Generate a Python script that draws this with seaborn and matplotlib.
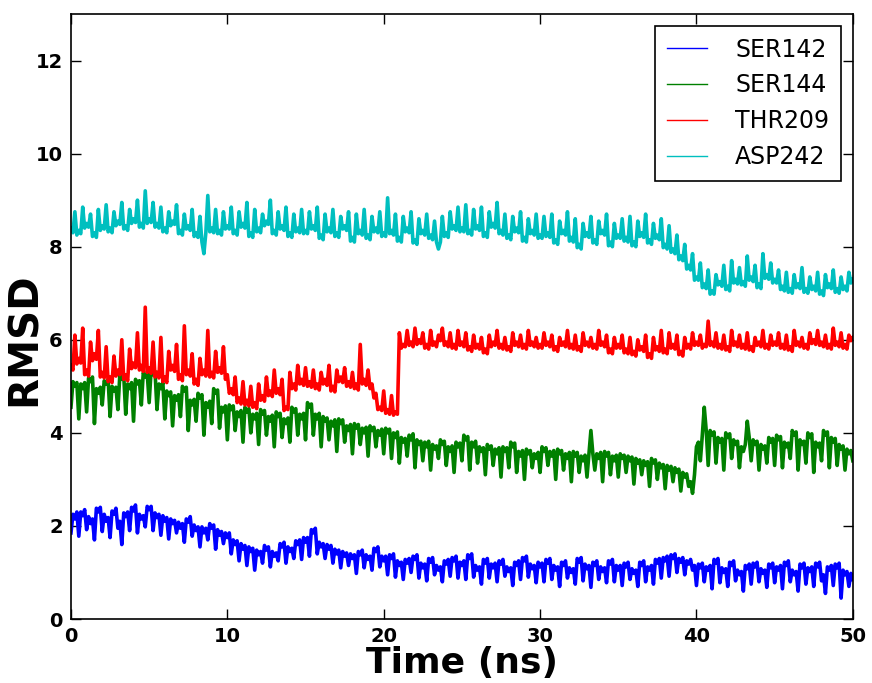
import matplotlib
matplotlib.use("Agg")
import matplotlib.pyplot as plt
import numpy as np
import pandas as pd
import seaborn as sns

# readings every 0.25 ns (0..50) plus in-between readings (0.125..49.875)
time_ns = np.arange(0, 50.01, 0.25)
time_mid = np.arange(0.125, 50, 0.25)

ser142 = [
    1.85, 2.15, 1.78, 2.22, 1.92, 2.05, 1.70, 2.30, 1.88, 2.10, 1.75, 2.25, 1.95, 1.60, 2.20, 1.90, 2.32, 1.85, 2.15, 1.98,
    2.35, 1.90, 2.18, 1.80, 2.10, 1.72, 2.05, 1.85, 1.95, 1.65, 2.08, 1.78, 1.90, 1.55, 1.85, 1.70, 1.95, 1.50, 1.80, 1.62,
    1.75, 1.40, 1.60, 1.25, 1.50, 1.15, 1.45, 1.05, 1.38, 1.20, 1.48, 1.12, 1.35, 1.25, 1.55, 1.20, 1.45, 1.30, 1.60, 1.28,
    1.65, 1.35, 1.85, 1.40, 1.55, 1.30, 1.50, 1.20, 1.40, 1.10, 1.35, 1.15, 1.30, 0.98, 1.38, 1.10, 1.28, 1.05, 1.45, 1.12,
    1.25, 0.95, 1.30, 0.90, 1.15, 0.85, 1.20, 1.00, 1.28, 0.88, 1.10, 0.82, 1.22, 0.95, 1.05, 0.80, 1.18, 0.92, 1.25, 0.88,
    1.15, 0.85, 1.30, 0.90, 1.05, 0.75, 1.20, 0.88, 1.10, 0.80, 1.18, 0.92, 1.02, 0.72, 1.15, 0.85, 1.25, 0.90, 1.08, 0.78,
    1.12, 0.80, 1.20, 0.85, 1.05, 0.70, 1.15, 0.88, 1.00, 0.75, 1.22, 0.82, 1.08, 0.68, 1.15, 0.85, 1.02, 0.78, 1.18, 0.80,
    1.05, 0.72, 1.12, 0.85, 0.98, 0.70, 1.15, 0.80, 1.05, 0.75, 1.20, 0.88, 1.25, 0.92, 1.30, 1.00, 1.22, 0.95, 1.18, 1.05,
    0.72, 1.10, 0.80, 1.05, 0.65, 1.20, 0.78, 1.00, 0.70, 1.15, 0.82, 0.95, 0.60, 1.08, 0.75, 1.12, 0.80, 0.98, 0.68, 1.10,
    0.78, 1.05, 0.65, 1.15, 0.80, 0.95, 0.60, 1.10, 0.75, 1.02, 0.70, 1.12, 0.82, 0.55, 1.05, 0.72, 1.10, 0.45, 0.95, 0.70,
    0.85,
]
ser142_mid = [
    2.25, 2.30, 2.30, 2.35, 2.20, 2.15, 2.38, 2.40, 2.25, 2.18, 2.32, 2.38, 2.10, 2.28, 2.30, 2.40, 2.45, 2.25, 2.22, 2.42,
    2.42, 2.28, 2.25, 2.22, 2.18, 2.15, 2.12, 2.08, 2.05, 2.15, 2.20, 2.02, 1.98, 1.98, 1.95, 2.05, 2.02, 1.92, 1.88, 1.85,
    1.85, 1.70, 1.68, 1.62, 1.58, 1.55, 1.52, 1.48, 1.45, 1.58, 1.55, 1.45, 1.42, 1.62, 1.65, 1.55, 1.52, 1.68, 1.70, 1.75,
    1.75, 1.92, 1.95, 1.65, 1.62, 1.60, 1.58, 1.50, 1.48, 1.45, 1.42, 1.40, 1.38, 1.45, 1.48, 1.38, 1.35, 1.52, 1.55, 1.35,
    1.35, 1.38, 1.40, 1.25, 1.22, 1.28, 1.30, 1.35, 1.38, 1.20, 1.18, 1.30, 1.32, 1.15, 1.12, 1.25, 1.28, 1.32, 1.35, 1.22,
    1.25, 1.38, 1.40, 1.15, 1.12, 1.28, 1.30, 1.18, 1.20, 1.25, 1.28, 1.12, 1.10, 1.22, 1.25, 1.32, 1.35, 1.18, 1.15, 1.22,
    1.20, 1.28, 1.30, 1.15, 1.12, 1.22, 1.25, 1.10, 1.08, 1.30, 1.32, 1.18, 1.15, 1.22, 1.25, 1.12, 1.10, 1.25, 1.28, 1.15,
    1.15, 1.20, 1.22, 1.08, 1.05, 1.22, 1.25, 1.12, 1.15, 1.28, 1.30, 1.32, 1.35, 1.38, 1.40, 1.30, 1.32, 1.25, 1.28, 1.15,
    1.18, 1.20, 1.12, 1.15, 1.28, 1.30, 1.10, 1.08, 1.22, 1.25, 1.05, 1.02, 1.15, 1.18, 1.20, 1.22, 1.08, 1.05, 1.18, 1.20,
    1.12, 1.15, 1.22, 1.25, 1.05, 1.02, 1.18, 1.20, 1.10, 1.12, 1.20, 1.22, 0.95, 1.12, 1.15, 1.18, 1.20, 1.05, 1.02, 0.98,
]

ser144 = [
    4.55, 5.00, 4.30, 4.95, 4.45, 5.10, 4.20, 4.85, 4.60, 5.05, 4.35, 4.90, 4.50, 5.15, 4.40, 4.95, 4.25, 5.05, 4.60, 5.20,
    4.65, 5.25, 4.50, 4.95, 4.30, 4.80, 4.15, 4.70, 4.35, 4.90, 4.05, 4.60, 4.25, 4.75, 3.95, 4.55, 4.20, 4.85, 4.10, 4.45,
    3.85, 4.50, 4.05, 4.35, 3.80, 4.45, 4.00, 4.30, 3.75, 4.40, 3.95, 4.25, 3.70, 4.35, 3.90, 4.20, 3.80, 4.45, 3.95, 4.30,
    3.85, 4.55, 3.95, 4.30, 3.70, 4.25, 3.85, 4.15, 3.60, 4.20, 3.80, 4.05, 3.55, 4.10, 3.75, 4.00, 3.50, 4.05, 3.70, 3.95,
    3.55, 4.00, 3.45, 3.90, 3.35, 3.80, 3.50, 3.85, 3.25, 3.75, 3.40, 3.70, 3.20, 3.65, 3.45, 3.75, 3.30, 3.60, 3.15, 3.70,
    3.40, 3.85, 3.20, 3.70, 3.35, 3.60, 3.10, 3.65, 3.30, 3.55, 3.05, 3.60, 3.25, 3.70, 3.15, 3.50, 3.00, 3.55, 3.25, 3.45,
    3.15, 3.60, 3.30, 3.50, 3.00, 3.55, 3.20, 3.45, 2.95, 3.50, 3.15, 3.40, 3.05, 4.05, 3.20, 3.45, 2.95, 3.50, 3.10, 3.40,
    3.05, 3.45, 3.15, 3.40, 2.90, 3.35, 3.10, 3.30, 2.85, 3.35, 3.00, 3.25, 2.80, 3.20, 2.95, 3.15, 2.75, 3.05, 2.85, 2.70,
    3.70, 3.40, 4.55, 3.30, 3.95, 3.35, 3.80, 3.20, 3.90, 3.45, 3.75, 3.25, 3.60, 4.25, 3.40, 3.75, 3.20, 3.65, 3.35, 3.80,
    3.30, 3.85, 3.25, 3.70, 3.45, 3.95, 3.20, 3.75, 3.35, 3.90, 3.15, 3.70, 3.40, 3.95, 3.25, 3.80, 3.30, 3.65, 3.20, 3.55,
    3.40,
]
ser144_mid = [
    5.10, 5.08, 5.05, 5.08, 5.18, 5.20, 4.95, 4.98, 5.12, 5.15, 5.00, 4.98, 5.25, 5.22, 5.05, 5.08, 5.15, 5.12, 5.30, 5.28,
    5.35, 5.32, 5.05, 5.08, 4.90, 4.88, 4.80, 4.82, 5.00, 4.98, 4.70, 4.72, 4.85, 4.82, 4.65, 4.68, 4.95, 4.92, 4.55, 4.58,
    4.60, 4.58, 4.45, 4.48, 4.55, 4.52, 4.40, 4.42, 4.50, 4.48, 4.35, 4.38, 4.45, 4.42, 4.30, 4.32, 4.55, 4.52, 4.40, 4.42,
    4.65, 4.62, 4.40, 4.42, 4.35, 4.32, 4.25, 4.28, 4.30, 4.28, 4.15, 4.18, 4.20, 4.18, 4.10, 4.12, 4.15, 4.12, 4.05, 4.08,
    4.10, 4.08, 4.00, 4.02, 3.90, 3.88, 3.95, 3.98, 3.85, 3.82, 3.80, 3.82, 3.75, 3.72, 3.85, 3.82, 3.70, 3.72, 3.80, 3.78,
    3.95, 3.92, 3.80, 3.82, 3.70, 3.68, 3.75, 3.72, 3.65, 3.68, 3.70, 3.68, 3.80, 3.78, 3.60, 3.62, 3.65, 3.62, 3.55, 3.58,
    3.70, 3.68, 3.60, 3.62, 3.65, 3.62, 3.55, 3.58, 3.60, 3.58, 3.50, 3.52, 3.55, 3.55, 3.55, 3.58, 3.60, 3.58, 3.50, 3.52,
    3.55, 3.52, 3.50, 3.48, 3.45, 3.42, 3.40, 3.38, 3.45, 3.42, 3.35, 3.32, 3.30, 3.28, 3.25, 3.22, 3.15, 3.12, 2.95, 3.10,
    3.80, 3.95, 4.05, 4.05, 4.02, 3.90, 3.88, 4.00, 3.98, 3.85, 3.82, 3.70, 3.75, 3.90, 3.85, 3.82, 3.75, 3.72, 3.90, 3.88,
    3.95, 3.92, 3.80, 3.78, 4.05, 4.02, 3.85, 3.82, 4.00, 3.98, 3.80, 3.78, 4.05, 4.02, 3.90, 3.88, 3.75, 3.72, 3.65, 3.62,
]

thr209 = [
    5.45, 6.10, 5.60, 6.25, 5.35, 5.95, 5.70, 6.20, 5.30, 5.85, 5.20, 5.65, 5.35, 6.00, 5.25, 5.80, 5.50, 6.15, 5.45, 6.70,
    5.40, 5.95, 5.30, 6.05, 5.20, 5.75, 5.45, 5.90, 5.25, 6.30, 5.35, 5.70, 5.15, 5.60, 5.35, 6.20, 5.30, 5.75, 5.40, 5.85,
    5.25, 4.95, 5.20, 4.75, 5.10, 4.70, 5.00, 4.65, 5.05, 4.80, 5.20, 4.90, 5.35, 4.95, 5.15, 4.55, 5.30, 5.05, 5.45, 5.15,
    5.40, 5.10, 5.35, 5.05, 5.30, 5.15, 5.45, 5.00, 5.35, 5.20, 5.40, 5.10, 5.30, 5.05, 5.90, 5.15, 5.35, 5.05, 4.85, 4.55,
    4.90, 4.50, 4.80, 4.45, 6.15, 5.90, 6.20, 5.95, 6.25, 6.00, 6.15, 5.90, 6.20, 5.95, 6.10, 6.25, 5.95, 6.15, 5.90, 6.20,
    5.95, 6.15, 5.85, 6.10, 5.90, 6.05, 5.80, 6.10, 5.95, 6.20, 5.90, 6.05, 5.85, 6.15, 5.95, 6.10, 5.90, 6.20, 5.95, 6.05,
    5.90, 6.15, 5.95, 6.10, 5.85, 6.05, 5.95, 6.20, 5.90, 6.10, 5.85, 6.15, 5.95, 6.05, 5.90, 6.20, 5.95, 6.10, 5.80, 6.05,
    5.90, 6.10, 5.80, 6.05, 5.75, 6.00, 5.85, 6.10, 5.70, 6.05, 5.85, 6.20, 5.80, 6.15, 5.90, 6.10, 5.75, 6.05, 5.90, 6.15,
    5.95, 6.10, 5.90, 6.40, 5.95, 6.15, 5.90, 6.10, 5.85, 6.20, 5.95, 6.10, 5.90, 6.15, 5.85, 6.05, 5.95, 6.20, 5.90, 6.10,
    5.95, 6.15, 5.90, 6.10, 5.85, 6.20, 5.95, 6.05, 5.90, 6.15, 6.00, 6.20, 5.95, 6.10, 5.90, 6.25, 5.95, 6.15, 5.90, 6.10,
    6.05,
]
thr209_mid = [
    5.35, 5.48, 5.50, 5.25, 5.22, 5.55, 5.58, 5.20, 5.18, 5.10, 5.08, 5.22, 5.25, 5.15, 5.12, 5.38, 5.40, 5.35, 5.32, 5.30,
    5.28, 5.20, 5.18, 5.10, 5.08, 5.35, 5.32, 5.15, 5.12, 5.25, 5.22, 5.05, 5.02, 5.25, 5.22, 5.20, 5.18, 5.30, 5.28, 5.15,
    4.85, 4.82, 4.65, 4.62, 4.60, 4.58, 4.55, 4.52, 4.70, 4.68, 4.80, 4.78, 4.85, 4.82, 4.48, 4.50, 4.95, 4.92, 5.05, 5.02,
    5.00, 4.98, 4.95, 4.92, 5.05, 5.02, 4.90, 4.88, 5.10, 5.08, 5.00, 4.98, 4.95, 4.92, 5.05, 5.02, 4.95, 4.75, 4.50, 4.48,
    4.42, 4.40, 4.38, 4.40, 5.82, 5.85, 5.88, 5.85, 5.90, 5.92, 5.82, 5.80, 5.88, 5.85, 5.98, 5.88, 5.85, 5.82, 5.80, 5.88,
    5.85, 5.78, 5.75, 5.82, 5.80, 5.72, 5.70, 5.85, 5.88, 5.82, 5.80, 5.78, 5.75, 5.88, 5.85, 5.82, 5.80, 5.88, 5.85, 5.82,
    5.82, 5.88, 5.85, 5.78, 5.75, 5.88, 5.85, 5.82, 5.80, 5.78, 5.75, 5.88, 5.85, 5.82, 5.80, 5.88, 5.85, 5.72, 5.70, 5.82,
    5.82, 5.72, 5.70, 5.68, 5.65, 5.78, 5.75, 5.62, 5.60, 5.78, 5.75, 5.72, 5.70, 5.82, 5.80, 5.68, 5.65, 5.82, 5.80, 5.88,
    5.88, 5.82, 5.85, 5.88, 5.85, 5.82, 5.80, 5.78, 5.75, 5.88, 5.85, 5.82, 5.80, 5.78, 5.75, 5.88, 5.85, 5.82, 5.80, 5.88,
    5.88, 5.82, 5.80, 5.78, 5.75, 5.88, 5.85, 5.82, 5.80, 5.92, 5.90, 5.88, 5.85, 5.82, 5.80, 5.88, 5.85, 5.82, 5.80, 5.98,
]

asp242 = [
    8.40, 8.75, 8.35, 8.85, 8.50, 8.70, 8.30, 8.80, 8.45, 8.90, 8.40, 8.75, 8.55, 8.95, 8.45, 8.80, 8.60, 9.00, 8.50, 9.20,
    8.60, 8.95, 8.50, 8.85, 8.40, 8.75, 8.55, 8.90, 8.35, 8.70, 8.45, 8.80, 8.30, 8.65, 7.85, 9.10, 8.40, 8.80, 8.35, 8.75,
    8.45, 8.85, 8.35, 8.75, 8.50, 8.95, 8.30, 8.80, 8.40, 8.70, 8.55, 9.00, 8.35, 8.75, 8.45, 8.85, 8.30, 8.70, 8.40, 8.80,
    8.35, 8.75, 8.45, 8.85, 8.25, 8.70, 8.40, 8.80, 8.30, 8.65, 8.45, 8.75, 8.20, 8.70, 8.35, 8.80, 8.25, 8.65, 8.40, 8.75,
    8.30, 9.05, 8.35, 8.70, 8.20, 8.65, 8.40, 8.75, 8.15, 8.60, 8.35, 8.70, 8.25, 8.55, 7.95, 8.65, 8.30, 8.75, 8.45, 8.85,
    8.40, 8.90, 8.35, 8.80, 8.45, 8.85, 8.30, 8.75, 8.50, 8.95, 8.35, 8.70, 8.25, 8.65, 8.40, 8.75, 8.20, 8.60, 8.35, 8.70,
    8.25, 8.65, 8.30, 8.70, 8.15, 8.55, 8.35, 8.75, 8.20, 8.60, 8.05, 8.50, 8.30, 8.65, 8.15, 8.55, 8.35, 8.70, 8.10, 8.50,
    8.25, 8.60, 8.20, 8.65, 8.10, 8.55, 8.30, 8.70, 8.15, 8.50, 8.25, 8.60, 8.05, 8.45, 7.95, 8.25, 7.80, 8.05, 7.60, 7.85,
    7.35, 7.65, 7.20, 7.50, 7.05, 7.40, 7.25, 7.60, 7.15, 7.70, 7.30, 7.55, 7.25, 7.80, 7.35, 7.60, 7.20, 7.85, 7.40, 7.65,
    7.30, 7.50, 7.15, 7.45, 7.10, 7.40, 7.20, 7.55, 7.10, 7.35, 7.15, 7.45, 7.05, 7.40, 7.20, 7.50, 7.10, 7.35, 7.15, 7.45,
    7.30,
]
asp242_mid = [
    8.30, 8.25, 8.28, 8.40, 8.42, 8.22, 8.20, 8.35, 8.38, 8.32, 8.30, 8.45, 8.48, 8.38, 8.35, 8.50, 8.52, 8.42, 8.40, 8.50,
    8.52, 8.42, 8.40, 8.32, 8.30, 8.45, 8.48, 8.28, 8.25, 8.38, 8.35, 8.22, 8.20, 8.10, 8.30, 8.32, 8.30, 8.28, 8.25, 8.38,
    8.38, 8.28, 8.25, 8.42, 8.40, 8.22, 8.20, 8.32, 8.30, 8.45, 8.48, 8.28, 8.25, 8.38, 8.35, 8.22, 8.20, 8.32, 8.30, 8.28,
    8.28, 8.38, 8.35, 8.18, 8.15, 8.32, 8.30, 8.22, 8.20, 8.38, 8.35, 8.12, 8.10, 8.28, 8.25, 8.18, 8.15, 8.32, 8.30, 8.22,
    8.22, 8.28, 8.25, 8.12, 8.10, 8.32, 8.30, 8.08, 8.05, 8.28, 8.25, 8.18, 8.15, 8.10, 8.10, 8.22, 8.20, 8.38, 8.35, 8.32,
    8.32, 8.28, 8.25, 8.38, 8.35, 8.22, 8.20, 8.42, 8.40, 8.28, 8.25, 8.18, 8.15, 8.32, 8.30, 8.12, 8.10, 8.28, 8.25, 8.18,
    8.18, 8.22, 8.20, 8.08, 8.05, 8.28, 8.25, 8.12, 8.10, 7.98, 7.95, 8.22, 8.20, 8.08, 8.05, 8.28, 8.25, 8.02, 8.00, 8.18,
    8.18, 8.12, 8.10, 8.02, 8.00, 8.22, 8.20, 8.08, 8.05, 8.18, 8.15, 7.98, 7.95, 7.88, 7.85, 7.72, 7.70, 7.52, 7.50, 7.28,
    7.28, 7.12, 7.10, 6.98, 6.98, 7.18, 7.15, 7.08, 7.05, 7.22, 7.20, 7.18, 7.15, 7.28, 7.25, 7.12, 7.10, 7.32, 7.30, 7.22,
    7.22, 7.08, 7.05, 7.02, 7.00, 7.12, 7.10, 7.02, 7.00, 7.08, 7.05, 6.98, 6.95, 7.12, 7.10, 7.02, 7.00, 7.08, 7.05, 7.22,
]

residues = ["SER142", "SER144", "THR209", "ASP242"]
colors = ["b", "g", "r", "c"]
series = [(ser142, ser142_mid), (ser144, ser144_mid), (thr209, thr209_mid), (asp242, asp242_mid)]

frames = []
for name, (vals, mids) in zip(residues, series):
    part = pd.DataFrame({"time": np.concatenate([time_ns, time_mid]),
                         "rmsd": np.concatenate([vals, mids]), "residue": name})
    frames.append(part.sort_values("time"))
df = pd.concat(frames, ignore_index=True)

fig, ax = plt.subplots(figsize=(8.72, 6.83), dpi=100)
fig.subplots_adjust(left=0.0814, right=0.978, top=0.9795, bottom=0.0937)

sns.lineplot(data=df, x="time", y="rmsd", hue="residue", palette=dict(zip(residues, colors)),
             estimator=None, sort=False, linewidth=2.6, ax=ax)

ax.set_xlim(0, 50)
ax.set_ylim(0, 13)
ax.set_xticks([0, 10, 20, 30, 40, 50])
ax.set_yticks([0, 2, 4, 6, 8, 10, 12])
ax.tick_params(direction="in", top=True, right=True, length=7, width=1, labelsize=14, pad=6)
for lab in ax.get_xticklabels() + ax.get_yticklabels():
    lab.set_fontweight("bold")
for sp in ax.spines.values():
    sp.set_linewidth(1.2)

ax.set_xlabel("Time (ns)", fontsize=26, fontweight="bold", labelpad=0)
ax.set_ylabel("RMSD", fontsize=29, fontweight="bold")
ax.yaxis.set_label_coords(-0.033, 0.463)

handles, labels = ax.get_legend_handles_labels()
leg = ax.legend(handles, labels, loc="upper right", fontsize=17, fancybox=False,
                edgecolor="black", framealpha=1, handlelength=1.7, handletextpad=1.2,
                labelspacing=0.5, borderpad=0.5)
leg.get_frame().set_linewidth(1.2)
for h in leg.get_lines():
    h.set_linewidth(1.0)

fig.savefig("out.png", dpi=100, facecolor="white")
